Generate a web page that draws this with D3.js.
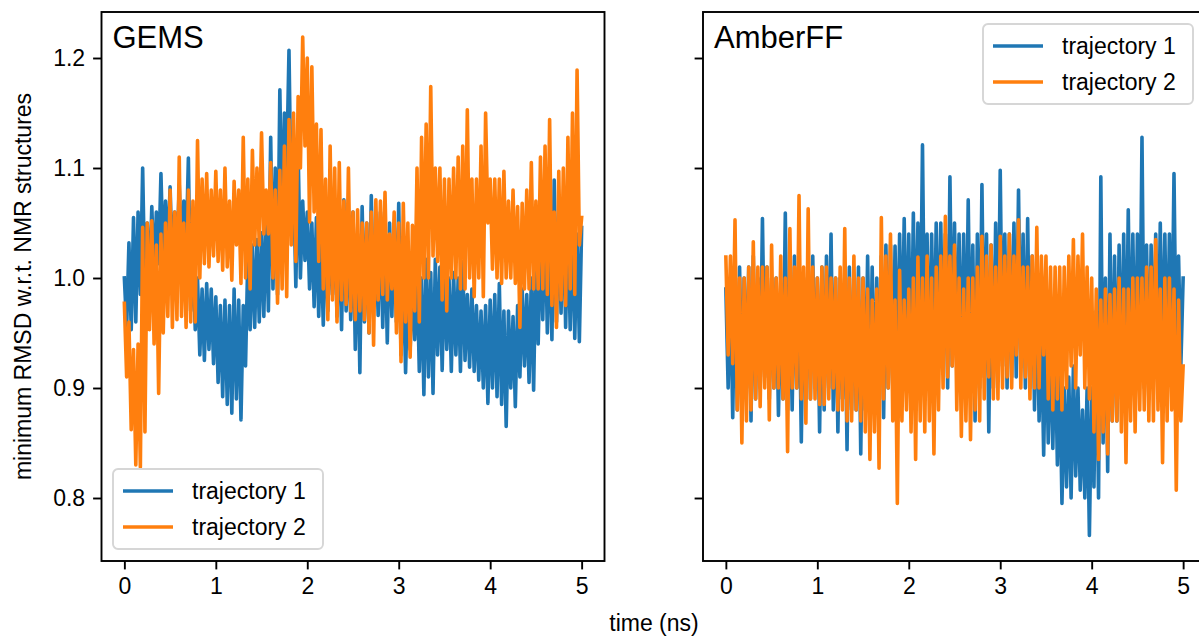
<!DOCTYPE html>
<html lang="en">
<head>
    <meta charset="UTF-8">
    <title>minimum RMSD, GEMS vs AmberFF</title>
    <script src="https://cdn.jsdelivr.net/npm/d3@7"></script>
    <style>
        body { margin: 0; background: #fff; }
        svg text { font-family: "Liberation Sans", Arial, sans-serif; fill: #000; }
    </style>
</head>
<body>
    <svg></svg>
    <script>
        const width = 1199;
        const height = 637;

        // sampling step of the trajectories (ns)
        const dt = 0.025;
        const xTicks = [0, 1, 2, 3, 4, 5];
        const yTicks = [0.8, 0.9, 1.0, 1.1, 1.2];
        const seriesNames = ['trajectory 1', 'trajectory 2'];
        const panelTitles = ['GEMS', 'AmberFF'];

        // values, one every 0.025 ns
        const gemsTraj1 = [
            1.00, 0.955, 1.032, 0.953, 1.055, 0.96, 1.06, 0.985, 1.10, 0.985, 1.05, 0.99, 1.065, 1.0, 1.06, 1.013, 1.095, 1.013, 1.07, 1.02,
            1.083, 1.01, 1.06, 1.018, 1.085, 1.02, 1.07, 1.02, 1.109, 0.97, 1.02, 0.953, 1.00, 0.93, 0.99, 0.925, 0.995, 0.935, 0.99, 0.922,
            0.983, 0.905, 0.975, 0.892, 0.98, 0.885, 0.975, 0.877, 0.99, 0.89, 0.98, 0.871, 0.975, 0.92, 1.02, 0.953, 1.03, 0.955, 1.035, 0.96,
            1.041, 0.965, 1.06, 0.97, 1.128, 0.99, 1.10, 0.985, 1.171, 1.04, 1.15, 1.098, 1.207, 1.06, 1.09, 0.992, 1.116, 1.0, 1.07, 1.016,
            1.06, 0.99, 1.05, 0.974, 1.055, 0.965, 1.04, 0.957, 1.05, 0.97, 1.05, 0.985, 1.06, 0.965, 1.05, 0.953, 1.071, 0.97, 1.045, 0.962,
            1.06, 0.935, 1.04, 0.914, 1.065, 0.96, 1.05, 0.95, 1.075, 0.975, 1.04, 0.966, 1.06, 0.955, 1.045, 0.941, 1.05, 0.965, 1.05, 0.96,
            1.068, 0.93, 1.01, 0.914, 1.00, 0.935, 1.0, 0.944, 1.01, 0.915, 1.0, 0.894, 1.017, 0.91, 1.005, 0.895, 1.017, 0.93, 1.01, 0.916,
            1.015, 0.935, 1.0, 0.915, 1.005, 0.93, 1.0, 0.915, 1.015, 0.925, 0.985, 0.919, 0.99, 0.915, 0.975, 0.907, 0.97, 0.9, 0.975, 0.886,
            0.98, 0.9, 0.985, 0.892, 0.995, 0.885, 0.97, 0.865, 0.97, 0.9, 0.965, 0.883, 0.975, 0.91, 0.99, 0.92, 0.985, 0.905, 1.0, 0.898,
            1.02, 0.94, 1.04, 0.962, 1.06, 0.95, 1.05, 0.944, 1.089, 0.96, 1.06, 0.968, 1.07, 0.955, 1.05, 0.953, 1.05, 0.945, 1.04, 0.942,
            1.046
        ];
        const gemsTraj2 = [
            0.977, 0.91, 0.96, 0.862, 0.935, 0.83, 0.94, 0.828, 1.046, 0.86, 1.05, 0.953, 1.052, 0.94, 1.03, 0.895, 1.04, 0.95, 1.05, 0.965,
            1.08, 0.955, 1.06, 0.962, 1.11, 0.965, 1.05, 0.955, 1.08, 0.96, 1.07, 0.96, 1.125, 1.0, 1.09, 1.013, 1.095, 1.01, 1.08, 1.02,
            1.097, 1.015, 1.08, 1.007, 1.10, 1.01, 1.07, 0.998, 1.088, 1.03, 1.08, 0.995, 1.128, 1.0, 1.09, 0.99, 1.116, 1.03, 1.10, 1.03,
            1.132, 1.04, 1.08, 1.04, 1.105, 1.0, 1.08, 0.977, 1.098, 0.99, 1.12, 0.983, 1.144, 1.03, 1.15, 1.015, 1.165, 1.10, 1.219, 1.12,
            1.20, 1.051, 1.192, 1.06, 1.14, 1.015, 1.135, 0.99, 1.09, 0.962, 1.12, 0.98, 1.10, 0.96, 1.105, 0.98, 1.07, 0.976, 1.10, 0.97,
            1.06, 0.962, 1.062, 0.97, 1.05, 0.962, 1.05, 0.95, 1.06, 0.939, 1.071, 0.98, 1.07, 0.985, 1.078, 0.98, 1.04, 0.99, 1.06, 0.95,
            1.05, 0.924, 1.068, 0.96, 1.05, 0.928, 1.048, 0.97, 1.10, 0.96, 1.128, 1.0, 1.14, 1.00, 1.174, 1.02, 1.10, 1.015, 1.10, 0.98,
            1.09, 0.97, 1.09, 1.0, 1.10, 1.00, 1.11, 0.99, 1.12, 0.99, 1.153, 1.0, 1.09, 0.983, 1.09, 1.0, 1.12, 0.983, 1.15, 1.05,
            1.09, 1.008, 1.09, 1.0, 1.09, 0.995, 1.097, 1.0, 1.07, 1.00, 1.08, 0.995, 1.065, 0.955, 1.068, 0.99, 1.08, 0.99, 1.105, 0.99,
            1.07, 0.99, 1.11, 0.99, 1.12, 0.985, 1.144, 0.975, 1.06, 0.955, 1.097, 0.98, 1.10, 0.975, 1.128, 0.99, 1.15, 0.985, 1.189, 1.03,
            1.055
        ];
        const amberTraj1 = [
            0.99, 0.90, 1.0, 0.873, 1.01, 0.88, 1.01, 0.89, 1.00, 0.90, 1.01, 0.87, 1.02, 0.89, 1.0, 0.90, 1.054, 0.91, 1.01, 0.89,
            1.00, 0.90, 1.0, 0.875, 0.98, 0.89, 1.059, 0.88, 1.0, 0.88, 1.02, 0.90, 1.0, 0.851, 1.00, 0.89, 1.01, 0.89, 1.02, 0.90,
            1.0, 0.86, 1.01, 0.88, 1.02, 0.90, 1.04, 0.88, 1.0, 0.86, 1.00, 0.89, 1.0, 0.844, 1.01, 0.88, 1.0, 0.88, 1.01, 0.84,
            1.00, 0.88, 1.02, 0.89, 1.01, 0.88, 1.00, 0.90, 1.02, 0.873, 1.03, 0.90, 1.03, 0.90, 1.029, 0.91, 1.04, 0.92, 1.054, 0.92,
            1.04, 0.90, 1.059, 0.92, 1.05, 0.93, 1.121, 0.92, 1.04, 0.90, 1.04, 0.91, 1.05, 0.92, 1.05, 0.92, 1.04, 0.90, 1.092, 0.92,
            1.05, 0.92, 1.04, 0.90, 1.04, 0.90, 1.071, 0.91, 1.03, 0.87, 1.04, 0.90, 1.085, 0.91, 1.04, 0.86, 1.03, 0.90, 1.05, 0.92,
            1.098, 0.92, 1.04, 0.90, 1.04, 0.91, 1.05, 0.91, 1.08, 0.92, 1.04, 0.90, 1.054, 0.90, 1.02, 0.88, 1.00, 0.87, 0.96, 0.839,
            0.96, 0.85, 0.95, 0.845, 0.95, 0.83, 0.92, 0.795, 0.90, 0.81, 0.91, 0.80, 0.92, 0.82, 0.90, 0.807, 0.88, 0.80, 0.90, 0.766,
            0.90, 0.81, 0.97, 0.80, 1.092, 0.85, 1.0, 0.824, 1.04, 0.87, 1.02, 0.87, 1.03, 0.89, 1.04, 0.89, 1.062, 0.90, 1.04, 0.90,
            1.04, 0.91, 1.128, 0.90, 1.03, 0.89, 1.03, 0.91, 1.04, 0.90, 1.05, 0.91, 1.04, 0.91, 1.04, 0.92, 1.095, 0.92, 1.02, 0.92,
            1.00
        ];
        const amberTraj2 = [
            1.019, 0.93, 1.02, 0.922, 1.053, 0.88, 1.0, 0.85, 1.00, 0.87, 1.01, 0.88, 1.033, 0.89, 1.01, 0.883, 1.01, 0.90, 1.01, 0.871,
            1.03, 0.90, 1.0, 0.90, 1.02, 0.89, 1.0, 0.842, 1.045, 0.90, 1.01, 0.90, 1.075, 0.89, 1.01, 0.868, 1.063, 0.89, 1.01, 0.89,
            1.00, 0.885, 1.01, 0.885, 1.01, 0.89, 1.0, 0.90, 1.00, 0.88, 1.01, 0.88, 1.045, 0.87, 1.0, 0.87, 1.02, 0.88, 1.0, 0.87,
            1.00, 0.86, 0.99, 0.835, 0.98, 0.86, 0.99, 0.827, 1.055, 0.89, 1.02, 0.90, 1.04, 0.87, 0.98, 0.795, 1.007, 0.87, 0.98, 0.88,
            0.99, 0.86, 1.0, 0.835, 1.019, 0.87, 1.0, 0.86, 1.02, 0.87, 1.0, 0.84, 1.01, 0.88, 1.02, 0.90, 1.056, 0.91, 1.02, 0.92,
            1.03, 0.88, 1.0, 0.856, 0.99, 0.87, 1.0, 0.853, 1.00, 0.88, 1.01, 0.87, 1.038, 0.89, 1.02, 0.91, 1.03, 0.89, 1.01, 0.89,
            1.038, 0.90, 1.02, 0.91, 1.04, 0.90, 1.02, 0.93, 1.053, 0.90, 1.01, 0.91, 1.01, 0.89, 1.02, 0.90, 1.046, 0.90, 1.02, 0.93,
            1.02, 0.89, 1.01, 0.88, 1.01, 0.89, 1.01, 0.88, 1.01, 0.90, 1.02, 0.92, 1.035, 0.90, 1.02, 0.93, 1.04, 0.90, 1.01, 0.89,
            1.00, 0.86, 0.99, 0.835, 0.98, 0.86, 0.99, 0.84, 0.985, 0.87, 0.99, 0.87, 1.00, 0.86, 0.99, 0.832, 0.99, 0.87, 1.0, 0.86,
            1.00, 0.88, 1.0, 0.88, 1.01, 0.87, 1.01, 0.87, 1.035, 0.88, 0.99, 0.832, 1.00, 0.87, 1.0, 0.88, 0.99, 0.807, 0.98, 0.87,
            0.92
        ];

        const colors = ['#1f77b4', '#ff7f0e'];
        const axW = 503, axTop = 12, axBottom = 561;
        const panelLeft = [101.5, 703];
        const fontSize = 23;

        const panels = [
            { title: panelTitles[0], left: panelLeft[0], series: [gemsTraj1, gemsTraj2], legend: 'lower left', ylabels: true },
            { title: panelTitles[1], left: panelLeft[1], series: [amberTraj1, amberTraj2], legend: 'upper right', ylabels: false }
        ];

        const svg = d3.select('svg')
            .attr('width', width)
            .attr('height', height);

        const y = d3.scaleLinear()
            .domain([0.74273, 1.24182])
            .range([axBottom, axTop]);

        panels.forEach(p => {
            const x = d3.scaleLinear()
                .domain([-0.25, 5.25])
                .range([p.left, p.left + axW]);

            // lines
            const line = d3.line()
                .x((d, i) => x(i * dt))
                .y(d => y(d));

            p.series.forEach((s, k) => {
                svg.append('path')
                    .datum(s)
                    .attr('fill', 'none')
                    .attr('stroke', colors[k])
                    .attr('stroke-width', 3.6)
                    .attr('stroke-linejoin', 'round')
                    .attr('stroke-linecap', 'square')
                    .attr('d', line);
            });

            // x axis
            const gx = svg.append('g')
                .attr('transform', `translate(0, ${axBottom})`)
                .call(d3.axisBottom(x).tickValues(xTicks).tickSize(8.4).tickPadding(8).tickFormat(d3.format('d')));
            gx.select('.domain').remove();
            gx.selectAll('line').attr('stroke-width', 1.9);
            gx.selectAll('text').attr('font-size', fontSize).attr('font-family', '"Liberation Sans", Arial, sans-serif');

            // y axis
            const gy = svg.append('g')
                .attr('transform', `translate(${p.left}, 0)`)
                .call(d3.axisLeft(y).tickValues(yTicks).tickSize(8.4).tickPadding(8)
                    .tickFormat(p.ylabels ? d3.format('.1f') : () => ''));
            gy.select('.domain').remove();
            gy.selectAll('line').attr('stroke-width', 1.9);
            gy.selectAll('text').attr('font-size', fontSize).attr('font-family', '"Liberation Sans", Arial, sans-serif');

            // frame
            svg.append('rect')
                .attr('x', p.left)
                .attr('y', axTop)
                .attr('width', axW)
                .attr('height', axBottom - axTop)
                .attr('fill', 'none')
                .attr('stroke', '#000')
                .attr('stroke-width', 1.9);

            // panel title
            svg.append('text')
                .attr('x', p.left + 11)
                .attr('y', axTop + 36)
                .attr('font-size', 31)
                .text(p.title);

            // legend
            const lw = 210, lh = 80;
            const lx = p.legend === 'lower left' ? p.left + 11.5 : 983;
            const ly = p.legend === 'lower left' ? axBottom - 12 - lh : axTop + 12;
            const lg = svg.append('g').attr('transform', `translate(${lx}, ${ly})`);
            lg.append('rect')
                .attr('width', lw)
                .attr('height', lh)
                .attr('rx', 5)
                .attr('fill', '#fff')
                .attr('fill-opacity', 0.8)
                .attr('stroke', '#d6d6d6')
                .attr('stroke-width', 1.9);
            seriesNames.forEach((name, k) => {
                const cy = 22 + k * 36;
                lg.append('line')
                    .attr('x1', 10).attr('x2', 60)
                    .attr('y1', cy).attr('y2', cy)
                    .attr('stroke', colors[k])
                    .attr('stroke-width', 3.6);
                lg.append('text')
                    .attr('x', 79)
                    .attr('y', cy + 8)
                    .attr('font-size', fontSize)
                    .text(name);
            });
        });

        // shared axis labels
        svg.append('text')
            .attr('x', 654)
            .attr('y', 631)
            .attr('text-anchor', 'middle')
            .attr('font-size', fontSize)
            .text('time (ns)');

        svg.append('text')
            .attr('transform', `translate(31, ${(axTop + axBottom) / 2}) rotate(-90)`)
            .attr('text-anchor', 'middle')
            .attr('font-size', fontSize)
            .text('minimum RMSD w.r.t. NMR structures');
    </script>
</body>
</html>
